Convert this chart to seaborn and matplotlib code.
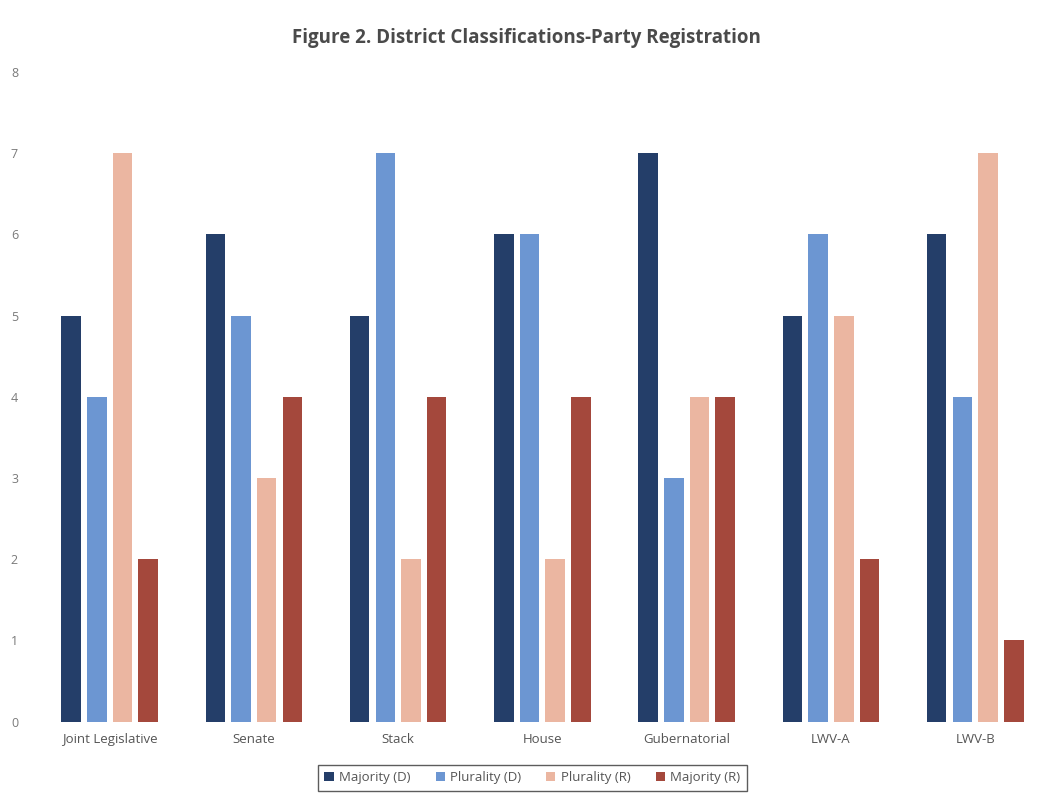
import matplotlib
matplotlib.use("Agg")
import matplotlib.pyplot as plt
import seaborn as sns
import pandas as pd

categories = ["Joint Legislative", "Senate", "Stack", "House", "Gubernatorial", "LWV-A", "LWV-B"]
series = ["Majority (D)", "Plurality (D)", "Plurality (R)", "Majority (R)"]
majority_d = [5, 6, 5, 6, 7, 5, 6]
plurality_d = [4, 5, 7, 6, 3, 6, 4]
plurality_r = [7, 3, 2, 2, 4, 5, 7]
majority_r = [2, 4, 4, 4, 4, 2, 1]
y_ticks = [0, 1, 2, 3, 4, 5, 6, 7, 8]

colors = ["#243e69", "#6c96d2", "#ebb6a1", "#a4483c"]

rows = []
for name, vals in zip(series, [majority_d, plurality_d, plurality_r, majority_r]):
    for cat, v in zip(categories, vals):
        rows.append({"District": cat, "Classification": name, "Count": v})
df = pd.DataFrame(rows)

sns.set_theme(style="white")
plt.rcParams["font.family"] = ["Open Sans", "DejaVu Sans"]

fig = plt.figure(figsize=(10.52, 8.01), dpi=100)
ax = fig.add_axes([0.0356, 0.099, 0.960, 0.811])

sns.barplot(data=df, x="District", y="Count", hue="Classification",
            order=categories, hue_order=series, palette=colors,
            width=0.713, gap=0.24, saturation=1, linewidth=0,
            ax=ax, legend=True)

ax.set_ylim(0, 8)
ax.set_yticks(y_ticks)
ax.set_yticklabels([str(t) for t in y_ticks], fontsize=9, color="#7a7a7a")
ax.tick_params(axis="x", labelsize=9.5, colors="#555555", length=0, pad=8)
ax.tick_params(axis="y", length=0, pad=14)
ax.set_xlabel("")
ax.set_ylabel("")
for s in ax.spines.values():
    s.set_visible(False)

fig.suptitle("Figure 2. District Classifications-Party Registration",
             y=0.965, fontsize=13.5, fontweight="bold", color="#4a4a4a")

handles, labels = ax.get_legend_handles_labels()
ax.legend_.remove()
leg = fig.legend(handles, labels, loc="center", bbox_to_anchor=(0.506, 0.029),
                 ncol=4, frameon=True, fontsize=9.5, handlelength=0.7, handleheight=0.7,
                 columnspacing=1.9, handletextpad=0.4, fancybox=False, borderpad=0.5)
leg.get_frame().set_edgecolor("#333333")
leg.get_frame().set_linewidth(1.0)
for t in leg.get_texts():
    t.set_color("#555555")

fig.savefig("out.png", dpi=100, facecolor="white")
